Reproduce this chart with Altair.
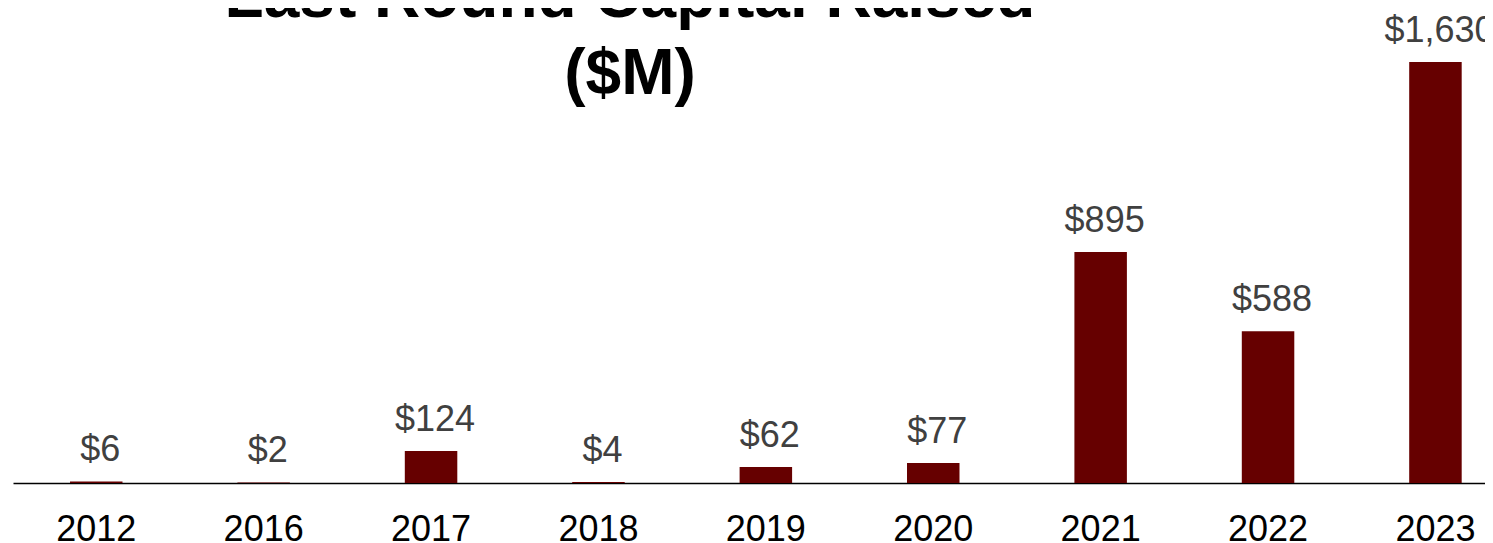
import altair as alt
import pandas as pd

years = ["2012", "2016", "2017", "2018", "2019", "2020", "2021", "2022", "2023"]
capital = [6, 2, 124, 4, 62, 77, 895, 588, 1630]

df = pd.DataFrame({"year": years, "capital": capital})

FONT = "Liberation Sans, Arial, sans-serif"

x_enc = alt.X(
    "year:N",
    sort=years,
    scale=alt.Scale(paddingInner=0.6864, paddingOuter=0.2399, align=0.7098),
    axis=alt.Axis(
        title=None,
        labelAngle=0,
        labelFontSize=36,
        labelFont=FONT,
        labelColor="#000000",
        labelPadding=29,
        ticks=False,
        domainColor="#000000",
        domainWidth=1.4,
        grid=False,
    ),
)
y_enc = alt.Y(
    "capital:Q",
    scale=alt.Scale(domain=[0, 1700], nice=False),
    axis=None,
)

base = alt.Chart(df).encode(x=x_enc, y=y_enc)

bars = base.mark_bar(color="#660000")
labels = base.transform_calculate(
    label="'$' + format(datum.capital, ',')"
).mark_text(
    baseline="alphabetic",
    dx=4,
    dy=-20,
    fontSize=36,
    font=FONT,
    color="#404040",
).encode(text="label:N")

chart = (
    alt.layer(bars, labels)
    .properties(
        width=1472,
        height=439,
        autosize=alt.AutoSizeParams(type="none"),
        padding={"left": 5, "top": 36, "right": 0, "bottom": 60},
        title=alt.TitleParams(
            text=["Last Round Capital Raised", "($M)"],
            fontSize=64,
            fontWeight="bold",
            font=FONT,
            color="#000000",
            anchor="middle",
            dx=-119,
            baseline="alphabetic",
            lineHeight=77,
            offset=-145,
        ),
    )
    .configure_view(stroke=None)
)

chart.save("out.html", embed_options={"renderer": "svg", "actions": False})
